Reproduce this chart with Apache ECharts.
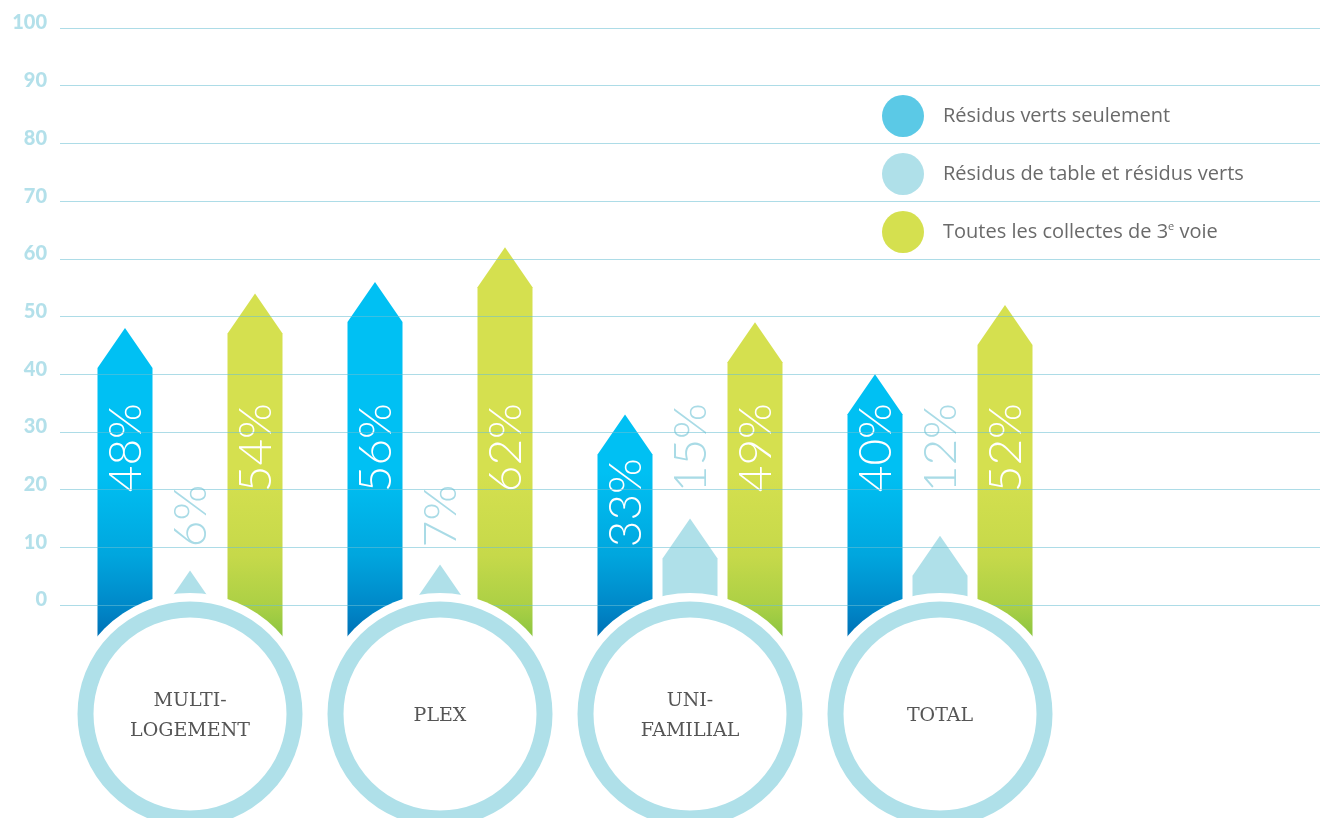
<!DOCTYPE html>
<html>
<head>
<meta charset="utf-8">
<script src="https://cdn.jsdelivr.net/npm/echarts@6/dist/echarts.min.js"></script>
<style>
html,body{margin:0;padding:0;background:#fff;}
#chart{width:1327px;height:818px;}
</style>
</head>
<body>
<div id="chart"></div>
<script>
// ---- data ----
const categories = ['MULTI-\nLOGEMENT', 'PLEX', 'UNI-\nFAMILIAL', 'TOTAL'];
const seriesNames = ['Résidus verts seulement', 'Résidus de table et résidus verts', 'Toutes les collectes de 3e voie'];
const vertsSeulement = [48, 56, 33, 40];
const tableEtVerts = [6, 7, 15, 12];
const toutesCollectes = [54, 62, 49, 52];
const yTicks = [0, 10, 20, 30, 40, 50, 60, 70, 80, 90, 100];

// ---- styling ----
const BAR_W = 55, OFFSET = 65, HEAD_H = 40;
const RING = '#afe0e9';
const LINE = 'rgba(105,192,212,0.55)';

const chart = echarts.init(document.getElementById('chart'));

function arrowRenderer(slot, fillFn, textColor) {
  return function (params, api) {
    const i = api.value(0), v = api.value(1);
    const tip = api.coord([i, v]);
    const cx = tip[0] + slot * OFFSET;
    const tipY = tip[1];
    const bottom = api.coord([i, -16])[1];
    const hw = BAR_W / 2;
    const pts = [[cx - hw, bottom], [cx - hw, tipY + HEAD_H], [cx, tipY], [cx + hw, tipY + HEAD_H], [cx + hw, bottom]];
    const label = v + '%';
    let topAnchor;
    if (slot === 0) topAnchor = label.length > 2; else topAnchor = v >= 38;
    const ay = topAnchor ? api.coord([i, 35])[1] : api.coord([i, 10])[1];
    return {
      type: 'group',
      children: [
        { type: 'polygon', shape: { points: pts }, style: { fill: fillFn(api) } },
        {
          type: 'text', x: cx + 1, y: ay, rotation: Math.PI / 2,
          style: { text: label, fill: textColor, fontFamily: 'Lato', fontWeight: 300, fontSize: 46, align: topAnchor ? 'right' : 'left', verticalAlign: 'middle' }
        }
      ]
    };
  };
}

function gradFill(stops) {
  return function (api) {
    const y0 = api.coord([0, 23])[1];
    const y1 = api.coord([0, -5.7])[1];
    return new echarts.graphic.LinearGradient(0, y0, 0, y1, stops, true);
  };
}

const option = {
  animation: false,
  backgroundColor: '#fff',
  grid: { left: 60, right: 7, top: 28, bottom: 213 },
  xAxis: { type: 'value', min: -0.52, max: 4.52, show: false },
  yAxis: {
    type: 'value', min: yTicks[0], max: yTicks[yTicks.length - 1], interval: 10, z: 3,
    axisLine: { show: false }, axisTick: { show: false },
    axisLabel: { color: '#b3e0ea', fontFamily: 'Lato', fontWeight: 900, fontSize: 20, margin: 13, verticalAlign: 'bottom', lineHeight: 10 },
    splitLine: { lineStyle: { color: LINE, width: 1 } }
  },
  legend: {
    orient: 'vertical', left: 877, top: 90, itemWidth: 42, itemHeight: 42, itemGap: 16, icon: 'circle',
    selectedMode: false,
    textStyle: { fontFamily: 'Open Sans', fontSize: 20, color: '#6a6a6a', padding: [0, 0, 0, 14],
      rich: { sup: { fontFamily: 'Open Sans', fontSize: 11, color: '#6a6a6a', padding: [0, 0, 10, 0] } } },
    formatter: function (n) { return n.replace('3e', '3{sup|e}'); },
    data: [
      { name: seriesNames[0], itemStyle: { color: '#5bc9e6' } },
      { name: seriesNames[1], itemStyle: { color: '#afe0e9' } },
      { name: seriesNames[2], itemStyle: { color: '#d5e04f' } }
    ]
  },
  series: [
    {
      type: 'custom', name: seriesNames[0], z: 2,
      itemStyle: { color: '#00bff2' },
      data: vertsSeulement.map((v, i) => [i, v]),
      encode: { x: 0, y: 1 },
      renderItem: arrowRenderer(-1, gradFill([
        { offset: 0, color: '#00c0f3' }, { offset: 0.5, color: '#00a6de' },
        { offset: 0.8, color: '#0089c9' }, { offset: 1, color: '#0070b5' }]), '#ffffff')
    },
    {
      type: 'custom', name: seriesNames[1], z: 2,
      itemStyle: { color: '#afe0e9' },
      data: tableEtVerts.map((v, i) => [i, v]),
      encode: { x: 0, y: 1 },
      renderItem: arrowRenderer(0, () => '#afe0e9', '#a9dbe6')
    },
    {
      type: 'custom', name: seriesNames[2], z: 2,
      itemStyle: { color: '#d5e04f' },
      data: toutesCollectes.map((v, i) => [i, v]),
      encode: { x: 0, y: 1 },
      renderItem: arrowRenderer(1, gradFill([
        { offset: 0, color: '#d5e04f' }, { offset: 0.5, color: '#c6d94a' },
        { offset: 0.8, color: '#acd045' }, { offset: 1, color: '#8bc540' }]), '#ffffff')
    },
    {
      type: 'custom', name: 'cercles', z: 5, silent: true,
      data: categories.map((c, i) => [i, 0]),
      encode: { x: 0, y: 1 },
      renderItem: function (params, api) {
        const i = api.value(0);
        const p = api.coord([i, 0]);
        const cx = p[0], cy = p[1] + 109;
        return {
          type: 'group',
          children: [
            { type: 'circle', shape: { cx: cx, cy: cy, r: 121 }, style: { fill: '#ffffff' } },
            { type: 'circle', shape: { cx: cx, cy: cy, r: 104.5 }, style: { fill: '#ffffff', stroke: RING, lineWidth: 16 } },
            { type: 'text', x: cx, y: cy + 2, style: { text: categories[i], fill: '#555', fontFamily: 'DejaVu Serif', fontSize: 19, align: 'center', verticalAlign: 'middle', lineHeight: 30 } }
          ]
        };
      }
    }
  ]
};
chart.setOption(option);
</script>
</body>
</html>
